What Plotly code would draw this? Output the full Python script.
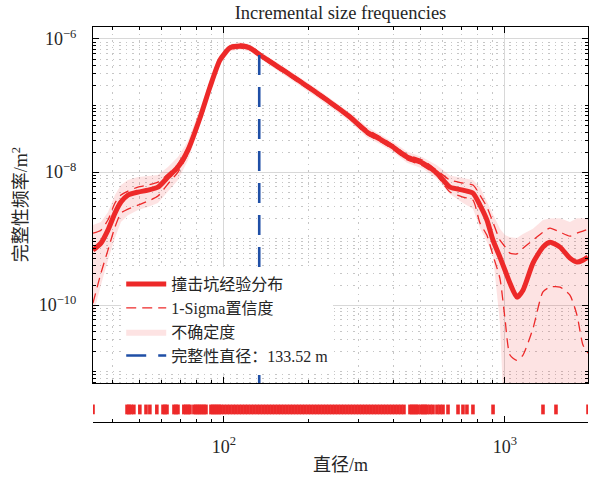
import plotly.graph_objects as go

# ---------------- data ----------------
diam = [34.19, 36.50, 38.65, 40.94, 43.00, 45.54, 49.43, 53.64, 58.23, 63.19,
        68.60, 74.45, 82.14, 89.18, 96.78, 105.0, 114.0, 123.7, 134.3, 162.2,
        214.3, 280.8, 322.8, 359.2, 399.4, 448.0, 510.8, 572.8, 637.3, 708.8,
        769.3, 814.7, 862.8, 906.3, 959.8, 1000, 1042, 1103, 1159, 1258,
        1365, 1446, 1570, 1703, 1804, 1895, 1974]

freq_main = [6.71e-10, 8.55e-10, 1.34e-9, 2.42e-9, 3.54e-9, 4.51e-9, 5.00e-9, 5.36e-9, 5.94e-9, 8.41e-9,
             1.19e-8, 2.14e-8, 6.49e-8, 1.90e-7, 4.83e-7, 7.33e-7, 7.85e-7, 7.33e-7, 5.74e-7, 3.42e-7,
             1.54e-7, 6.71e-8, 4.00e-8, 3.13e-8, 2.38e-8, 1.68e-8, 1.36e-8, 9.66e-9, 5.94e-9, 5.36e-9,
             4.83e-9, 3.19e-9, 1.90e-9, 9.48e-10, 5.27e-10, 3.36e-10, 2.14e-10, 1.32e-10, 1.68e-10, 4.29e-10,
             7.45e-10, 8.85e-10, 7.45e-10, 5.09e-10, 4.44e-10, 4.75e-10, 5.27e-10]

sigma_hi = [1.21e-9, 1.34e-9, 1.90e-9, 3.42e-9, 4.51e-9, 5.18e-9, 5.94e-9, 6.38e-9, 7.08e-9, 9.33e-9,
            1.32e-8, 2.38e-8, 6.95e-8, 2.03e-7, 5.18e-7, 7.85e-7, 8.41e-7, 7.85e-7, 6.15e-7, 3.66e-7,
            1.65e-7, 7.19e-8, 4.37e-8, 3.39e-8, 2.57e-8, 1.84e-8, 1.50e-8, 1.06e-8, 7.59e-9, 6.84e-9,
            6.38e-9, 4.51e-9, 2.98e-9, 1.77e-9, 9.48e-10, 7.59e-10, 6.05e-10, 5.89e-10, 7.19e-10, 9.48e-10,
            1.25e-9, 1.44e-9, 1.25e-9, 1.09e-9, 1.21e-9, 1.30e-9, 1.39e-9]

sigma_lo = [1.07e-10, 3.03e-10, 6.71e-10, 1.49e-9, 2.42e-9, 2.78e-9, 3.19e-9, 3.66e-9, 4.36e-9, 6.61e-9,
            1.00e-8, 1.87e-8, 6.05e-8, 1.77e-7, 4.51e-7, 6.84e-7, 7.33e-7, 6.84e-7, 5.36e-7, 3.19e-7,
            1.44e-7, 6.27e-8, 3.66e-8, 2.88e-8, 2.19e-8, 1.53e-8, 1.24e-8, 8.81e-9, 5.00e-9, 4.21e-9,
            3.79e-9, 1.71e-9, 1.12e-9, 5.62e-10, 2.51e-10, 6.31e-11, 1.78e-11, 1.48e-11, 1.78e-11, 4.47e-11,
            1.58e-10, 1.87e-10, 1.87e-10, 1.41e-10, 7.08e-11, 2.51e-11, 1.91e-11]

band_hi = [1.60e-9, 1.77e-9, 2.50e-9, 4.51e-9, 6.38e-9, 7.59e-9, 8.41e-9, 8.71e-9, 9.02e-9, 1.19e-8,
           1.68e-8, 2.92e-8, 8.55e-8, 2.24e-7, 5.62e-7, 8.32e-7, 8.91e-7, 8.32e-7, 6.46e-7, 3.89e-7,
           1.78e-7, 7.76e-8, 4.79e-8, 3.72e-8, 2.82e-8, 2.04e-8, 1.66e-8, 1.27e-8, 8.91e-9, 8.13e-9,
           7.59e-9, 5.94e-9, 3.55e-9, 2.25e-9, 1.41e-9, 1.13e-9, 1.05e-9, 1.02e-9, 1.17e-9, 1.41e-9,
           1.90e-9, 2.00e-9, 2.03e-9, 1.77e-9, 2.03e-9, 2.03e-9, 2.03e-9]

band_lo = [7.08e-11, 2.00e-10, 4.75e-10, 1.02e-9, 1.77e-9, 2.25e-9, 2.69e-9, 2.98e-9, 3.42e-9, 5.00e-9,
           7.59e-9, 1.51e-8, 5.09e-8, 1.58e-7, 4.17e-7, 6.46e-7, 6.92e-7, 6.46e-7, 5.01e-7, 2.95e-7,
           1.32e-7, 5.75e-8, 3.31e-8, 2.63e-8, 2.00e-8, 1.38e-8, 1.12e-8, 7.94e-9, 4.68e-9, 3.42e-9,
           2.82e-9, 1.44e-9, 8.91e-10, 5.65e-10, 5.37e-11, 1e-12, 1e-12, 1e-12, 1e-12, 1e-12,
           1e-12, 1e-12, 1e-12, 1e-12, 1e-12, 1e-12, 1e-12]

completeness_d = 133.52
completeness_top = 5.74e-7

rug_diam = [34.2, 45.2, 45.9, 46.7, 47.8, 50.2, 52.8, 54.5, 57.7, 60.7, 61.7, 62.7, 66.4, 67.5, 68.6,
            72.0, 73.2, 74.5, 75.7, 78.2, 79.5, 80.8, 82.1, 83.5, 84.9, 86.3, 89.9, 91.4, 92.9, 94.4, 96.0,
            97.6, 100.0, 102.5, 105.0, 107.7, 110.3, 113.1, 115.9, 118.8, 121.7, 124.8, 127.9, 131.1,
            134.3, 137.7, 141.1, 144.6, 148.2, 151.9, 155.7, 159.5, 163.5, 167.6, 171.8, 176.0, 180.4,
            184.9, 189.5, 194.2, 199.1, 204.0, 209.1, 214.3, 219.6, 225.1, 230.7, 236.4, 242.3, 248.3,
            254.5, 260.9, 267.3, 274.0, 280.8, 287.8, 295.0, 302.3, 309.8, 317.5, 325.4, 333.5, 341.8,
            350.3, 359.1, 368.0, 377.1, 386.5, 396.2, 406.0,
            416.1, 426.5, 437.1, 459.2, 466.8, 474.5, 482.3, 490.3, 502.5, 510.8, 519.3, 527.8, 541.0,
            554.5, 572.9, 587.4, 601.9, 627.1, 680.7, 708.9, 732.4, 769.3, 906.9, 1365.6, 1519, 1975]

x_tick_vals = [100, 1000]
x_tick_text = ["10<sup>2</sup>", "10<sup>3</sup>"]
y_tick_vals = [1e-10, 1e-8, 1e-6]
y_tick_text = ["10<sup>−10</sup>", "10<sup>−8</sup>", "10<sup>−6</sup>"]

names = ["撞击坑经验分布", "1-Sigma置信度", "不确定度", "完整性直径：133.52 m"]

# ---------------- style ----------------
FONT = "Liberation Serif, Noto Sans CJK SC, serif"
TXT = "#262626"
RED = "rgb(237,41,41)"
BLUE = "#1f4fa6"
PINK = "rgba(240,60,60,0.14)"

x_minor = [k * 10 ** e for e in (1, 2, 3) for k in range(2, 10)]
y_minor = [k * 10 ** e for e in range(-12, -5) for k in range(1, 10)
           if not (k == 1 and e in (-10, -8, -6))]

fig = go.Figure()

# uncertainty band
fig.add_trace(go.Scatter(
    x=diam + diam[::-1], y=band_hi + band_lo[::-1],
    fill="toself", fillcolor=PINK, line=dict(width=0), mode="lines",
    name=names[2], legendrank=3, hoverinfo="skip"))

# 1-sigma lines
fig.add_trace(go.Scatter(x=diam, y=sigma_hi, mode="lines", name=names[1], legendrank=2,
                         line=dict(color=RED, width=1.3, dash="10px,6px", shape="spline", smoothing=0.6)))
fig.add_trace(go.Scatter(x=diam, y=sigma_lo, mode="lines", name=names[1], showlegend=False,
                         line=dict(color=RED, width=1.3, dash="10px,6px", shape="spline", smoothing=0.6)))

# main distribution
fig.add_trace(go.Scatter(x=diam, y=freq_main, mode="lines", name=names[0], legendrank=1,
                         line=dict(color=RED, width=5, shape="spline", smoothing=0.6)))

# completeness diameter
fig.add_trace(go.Scatter(x=[completeness_d, completeness_d], y=[completeness_top, 1e-12],
                         mode="lines", name=names[3], legendrank=4,
                         line=dict(color=BLUE, width=2.6, dash="20px,12px")))

# rug
fig.add_trace(go.Scatter(x=rug_diam, y=[0.57] * len(rug_diam), mode="markers",
                         xaxis="x2", yaxis="y2", showlegend=False,
                         marker=dict(symbol="line-ns", size=7,
                                     line=dict(color=RED, width=3.6))))

axis_common = dict(type="log", showline=True, linecolor="black", linewidth=1,
                   ticks="inside", tickcolor="black", ticklen=6, tickwidth=1,
                   automargin=False,
                   tickfont=dict(family=FONT, size=18, color=TXT))

GRID_MINOR = dict(ticks="inside", ticklen=3, tickcolor="black",
                  showgrid=True, gridcolor="#c6c6c6", gridwidth=1, griddash="1.5px,5px")

fig.update_layout(
    width=595, height=477,
    margin=dict(l=93, r=7, t=27, b=55),
    paper_bgcolor="white", plot_bgcolor="white",
    font=dict(family=FONT, size=17, color=TXT),
    title=dict(text="Incremental size frequencies", x=0.5, xref="paper", xanchor="center",
               y=1 - 13 / 477, yref="container", yanchor="middle", automargin=False,
               font=dict(family=FONT, size=18.5, color=TXT)),
    xaxis=dict(**axis_common, range=[1.534, 3.2955], domain=[0, 1], anchor="y",
               mirror="allticks", showticklabels=False,
               tickvals=x_tick_vals,
               showgrid=True, gridcolor="#d8d8d8", gridwidth=1,
               minor=dict(tickvals=x_minor, **GRID_MINOR)),
    yaxis=dict(**axis_common, range=[-11.17, -5.82], domain=[0.0987, 1], anchor="x",
               mirror="allticks", tickvals=y_tick_vals, ticktext=y_tick_text,
               ticklabelstandoff=12,
               showgrid=True, gridcolor="#d8d8d8", gridwidth=1,
               minor=dict(tickvals=y_minor, **GRID_MINOR)),
    xaxis2=dict(**axis_common, range=[1.534, 3.2955], domain=[0, 1], anchor="y2",
                tickvals=x_tick_vals, ticktext=x_tick_text, showgrid=False,
                ticklabelstandoff=8,
                minor=dict(tickvals=x_minor, ticks="inside", ticklen=3, tickcolor="black")),
    yaxis2=dict(range=[0, 1], domain=[0, 0.0557], visible=False, anchor="x2"),
    legend=dict(x=0.057, y=0.392, xanchor="left", yanchor="top",
                bgcolor="white", borderwidth=0, itemwidth=40,
                font=dict(family=FONT, size=16, color=TXT), tracegroupgap=0),
    showlegend=True,
)

fig.add_annotation(text="完整性频率/m<sup>2</sup>", textangle=-90, xref="paper", yref="paper",
                   x=(20 - 93) / 495, y=0.549, xanchor="center", yanchor="middle",
                   showarrow=False, font=dict(family=FONT, size=18, color=TXT))
fig.add_annotation(text="直径/m", xref="paper", yref="paper", x=0.5, y=(422 - 465) / 395,
                   xanchor="center", yanchor="middle",
                   showarrow=False, font=dict(family=FONT, size=18, color=TXT))

# remove the browser's default 8 px body margin so the figure sits at the page origin
fig.write_html("out.html", config={"displayModeBar": False},
               post_script="document.body.style.margin='0px';")
